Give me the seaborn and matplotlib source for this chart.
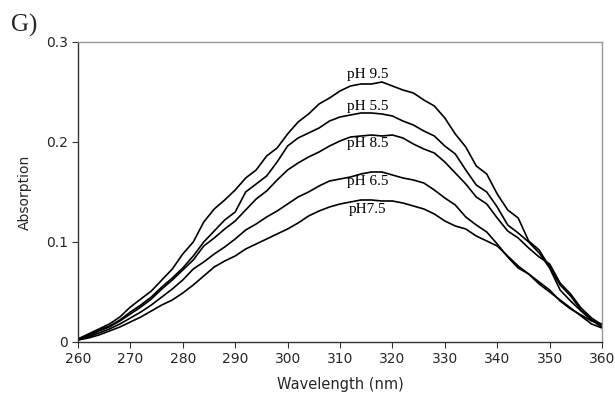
import numpy as np
import pandas as pd
import matplotlib
matplotlib.use("Agg")
import matplotlib.pyplot as plt
import seaborn as sns

wavelength = list(range(260, 361, 2))

ph_9_5 = [0.003, 0.008, 0.013, 0.018, 0.025, 0.035, 0.043, 0.051, 0.062, 0.073,
          0.088, 0.100, 0.120, 0.133, 0.142, 0.152, 0.164, 0.172, 0.186, 0.194,
          0.208, 0.220, 0.228, 0.238, 0.244, 0.251, 0.256, 0.258, 0.258, 0.260,
          0.256, 0.252, 0.249, 0.242, 0.236, 0.224, 0.208, 0.195, 0.176, 0.168,
          0.148, 0.132, 0.124, 0.101, 0.092, 0.075, 0.057, 0.046, 0.032, 0.022,
          0.015]
ph_5_5 = [0.003, 0.007, 0.012, 0.016, 0.022, 0.030, 0.037, 0.045, 0.055, 0.064,
          0.074, 0.086, 0.100, 0.111, 0.122, 0.130, 0.150, 0.158, 0.166, 0.180,
          0.196, 0.204, 0.209, 0.214, 0.221, 0.225, 0.227, 0.229, 0.229, 0.228,
          0.226, 0.221, 0.217, 0.211, 0.206, 0.196, 0.188, 0.172, 0.157, 0.150,
          0.135, 0.117, 0.109, 0.100, 0.089, 0.074, 0.052, 0.041, 0.031, 0.022,
          0.015]
ph_8_5 = [0.003, 0.006, 0.011, 0.015, 0.021, 0.028, 0.035, 0.043, 0.053, 0.062,
          0.072, 0.082, 0.096, 0.104, 0.113, 0.121, 0.132, 0.143, 0.151, 0.162,
          0.172, 0.179, 0.185, 0.190, 0.196, 0.201, 0.205, 0.206, 0.207, 0.206,
          0.207, 0.204, 0.198, 0.193, 0.189, 0.180, 0.169, 0.158, 0.145, 0.138,
          0.124, 0.111, 0.104, 0.094, 0.085, 0.078, 0.059, 0.048, 0.034, 0.024,
          0.017]
ph_6_5 = [0.002, 0.005, 0.009, 0.013, 0.018, 0.024, 0.030, 0.037, 0.045, 0.053,
          0.062, 0.073, 0.080, 0.088, 0.095, 0.103, 0.112, 0.118, 0.125, 0.131,
          0.138, 0.145, 0.150, 0.156, 0.161, 0.163, 0.165, 0.168, 0.170, 0.170,
          0.167, 0.164, 0.162, 0.159, 0.152, 0.144, 0.137, 0.125, 0.117, 0.110,
          0.098, 0.085, 0.074, 0.068, 0.058, 0.050, 0.042, 0.034, 0.026, 0.018,
          0.014]
ph_7_5 = [0.002, 0.004, 0.007, 0.011, 0.015, 0.020, 0.025, 0.031, 0.037, 0.042,
          0.049, 0.057, 0.066, 0.075, 0.081, 0.086, 0.093, 0.098, 0.103, 0.108,
          0.113, 0.119, 0.126, 0.131, 0.135, 0.138, 0.140, 0.142, 0.142, 0.141,
          0.141, 0.139, 0.136, 0.133, 0.128, 0.121, 0.116, 0.113, 0.106, 0.101,
          0.096, 0.086, 0.076, 0.068, 0.060, 0.052, 0.041, 0.033, 0.027, 0.021,
          0.018]

series_names = ["pH 9.5", "pH 5.5", "pH 8.5", "pH 6.5", "pH7.5"]
series_values = [ph_9_5, ph_5_5, ph_8_5, ph_6_5, ph_7_5]
label_x = [315.3, 315.3, 315.3, 315.3, 315.3]
label_y = [0.267, 0.235, 0.198, 0.160, 0.132]

x_ticks = list(range(260, 361, 10))
y_ticks = [0, 0.1, 0.2, 0.3]
y_tick_labels = ["0", "0.1", "0.2", "0.3"]

rows = []
for name, vals in zip(series_names, series_values):
    for w, v in zip(wavelength, vals):
        rows.append({"Wavelength": w, "Absorption": v, "series": name})
df = pd.DataFrame(rows)

sns.set_style("white")
plt.rcParams["font.family"] = ["DejaVu Sans"]

fig = plt.figure(figsize=(6.15, 4.05), dpi=100)
ax = fig.add_axes([0.1268, 0.1556, 0.8521, 0.7407])

sns.lineplot(data=df, x="Wavelength", y="Absorption", hue="series",
             palette=["black"] * 5, linewidth=1.2, legend=False, ax=ax,
             estimator=None, sort=True)

ax.set_xlim(260, 360)
ax.set_ylim(0, 0.3)
ax.set_xticks(x_ticks)
ax.set_xticklabels([str(t) for t in x_ticks], fontsize=10)
ax.set_yticks(y_ticks)
ax.set_yticklabels(y_tick_labels, fontsize=10)
ax.tick_params(axis="both", direction="out", length=4, width=0.8,
               color="#333333", pad=3, left=True, bottom=True)
ax.set_xlabel("Wavelength (nm)", fontsize=10.5, labelpad=8)
ax.set_ylabel("Absorption", fontsize=10, labelpad=10)

for side in ["left", "bottom"]:
    ax.spines[side].set_color("#333333")
    ax.spines[side].set_linewidth(1.0)
for side in ["top", "right"]:
    ax.spines[side].set_color("#999999")
    ax.spines[side].set_linewidth(1.0)
    ax.spines[side].set_visible(True)

for name, lx, ly in zip(series_names, label_x, label_y):
    ax.text(lx, ly, name, ha="center", va="center", fontsize=11,
            family="Liberation Serif", color="black")

fig.text(0.018, 0.965, "G)", fontsize=18, family="Liberation Serif",
         ha="left", va="top")

fig.savefig("out.png", dpi=100)
